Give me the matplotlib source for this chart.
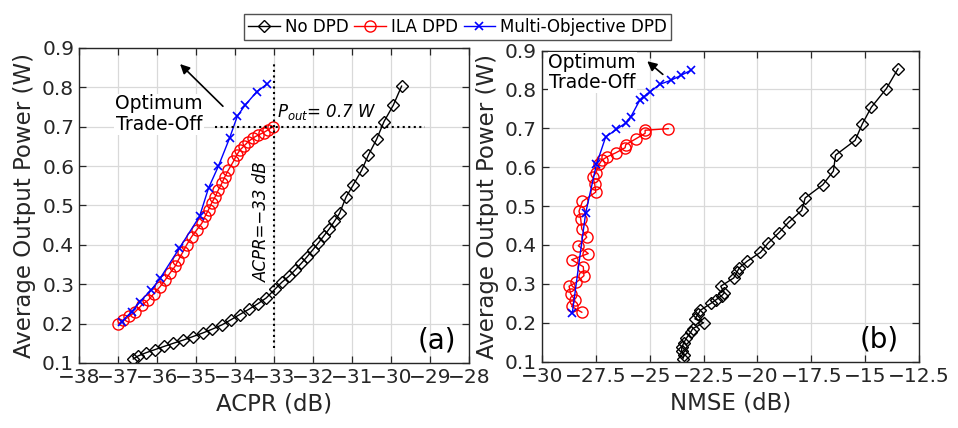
import matplotlib
matplotlib.use('Agg')
import matplotlib.pyplot as plt
import numpy as np

# ---------------- data ----------------
# (a) ACPR vs average output power
acpr_no_dpd = [-36.61, -36.48, -36.28, -36.05, -35.82, -35.58, -35.33, -35.08, -34.83, -34.58,
               -34.33, -34.10, -33.88, -33.65, -33.42, -33.20, -32.97, -32.80, -32.62, -32.45,
               -32.30, -32.15, -32.00, -31.86, -31.72, -31.58, -31.45, -31.32, -31.15, -30.97,
               -30.75, -30.58, -30.37, -30.18, -29.94, -29.73]
pout_no_dpd_a = [0.110, 0.118, 0.126, 0.134, 0.142, 0.150, 0.158, 0.167, 0.176, 0.186,
                 0.197, 0.210, 0.223, 0.236, 0.250, 0.265, 0.288, 0.305, 0.320, 0.337,
                 0.353, 0.370, 0.388, 0.405, 0.423, 0.441, 0.460, 0.480, 0.522, 0.552,
                 0.590, 0.628, 0.668, 0.713, 0.755, 0.803]

acpr_ila = [-36.99, -36.86, -36.71, -36.56, -36.39, -36.22, -36.09, -35.92, -35.79, -35.67,
            -35.54, -35.45, -35.33, -35.24, -35.11, -34.98, -34.85, -34.77, -34.68, -34.60,
            -34.51, -34.43, -34.34, -34.26, -34.17, -34.04, -33.96, -33.87, -33.77, -33.66,
            -33.53, -33.40, -33.27, -33.15, -33.03]
pout_ila_a = [0.199, 0.209, 0.218, 0.230, 0.247, 0.260, 0.275, 0.294, 0.311, 0.328,
              0.345, 0.362, 0.383, 0.400, 0.421, 0.438, 0.455, 0.472, 0.489, 0.506,
              0.522, 0.539, 0.556, 0.573, 0.590, 0.612, 0.628, 0.641, 0.651, 0.662,
              0.672, 0.679, 0.685, 0.692, 0.700]

acpr_mo = [-36.91, -36.65, -36.44, -36.15, -35.92, -35.43, -34.91, -34.68, -34.43, -34.14,
           -33.94, -33.74, -33.44, -33.17]
pout_mo_a = [0.205, 0.230, 0.256, 0.285, 0.315, 0.391, 0.472, 0.544, 0.599, 0.671,
             0.727, 0.755, 0.789, 0.809]

# (b) NMSE vs average output power
nmse_no_dpd = [-23.45, -23.40, -23.52, -23.50, -23.42, -23.30, -23.10, -23.00, -22.50, -22.90,
               -22.75, -22.65, -22.15, -21.92, -21.65, -21.53, -21.70, -21.10, -20.95, -20.84,
               -20.48, -19.86, -19.50, -19.01, -18.54, -17.94, -17.78, -16.96, -16.47, -16.37,
               -15.46, -15.13, -14.71, -14.01, -13.47]
pout_no_dpd_b = [0.108, 0.118, 0.128, 0.138, 0.148, 0.160, 0.175, 0.185, 0.200, 0.210,
                 0.222, 0.232, 0.250, 0.259, 0.270, 0.277, 0.294, 0.315, 0.330, 0.341,
                 0.358, 0.381, 0.405, 0.431, 0.459, 0.489, 0.521, 0.555, 0.590, 0.631,
                 0.669, 0.711, 0.754, 0.802, 0.853]

nmse_ila = [-28.15, -28.62, -28.47, -28.67, -28.74, -28.40, -28.05, -28.08, -28.62, -27.85,
            -28.31, -27.92, -28.15, -28.20, -28.28, -28.12, -27.50, -27.55, -27.63, -27.50,
            -27.35, -27.22, -26.96, -26.57, -26.14, -26.11, -25.64, -25.21, -25.21, -24.14]
pout_ila_b = [0.227, 0.242, 0.258, 0.275, 0.294, 0.304, 0.321, 0.344, 0.362, 0.378,
              0.398, 0.420, 0.441, 0.467, 0.487, 0.512, 0.536, 0.556, 0.575, 0.585,
              0.607, 0.618, 0.627, 0.637, 0.650, 0.658, 0.673, 0.687, 0.695, 0.699]

nmse_mo = [-28.59, -27.97, -27.47, -27.04, -26.54, -26.11, -25.88, -25.46, -25.26, -25.00,
           -24.53, -23.99, -23.55, -23.09]
pout_mo_b = [0.225, 0.482, 0.607, 0.678, 0.697, 0.714, 0.729, 0.772, 0.781, 0.793,
             0.813, 0.824, 0.836, 0.849]

xticks_a = np.arange(-38, -27, 1)
xticks_b = [-30, -27.5, -25, -22.5, -20, -17.5, -15, -12.5]
xticklabels_b = ['\u221230', '\u221227.5', '\u221225', '\u221222.5', '\u221220',
                 '\u221217.5', '\u221215', '\u221212.5']
yticks = [0.1, 0.2, 0.3, 0.4, 0.5, 0.6, 0.7, 0.8, 0.9]

# ---------------- figure ----------------
plt.rcParams['font.family'] = ['DejaVu Sans']
fig = plt.figure(figsize=(9.58, 4.28), dpi=100)
ax_a = fig.add_axes([0.0825, 0.152, 0.4071, 0.736])
ax_b = fig.add_axes([0.5657, 0.155, 0.3935, 0.727])

tick_fs = 14.5
label_fs = 16.5


def style_axes(ax):
    # MATLAB-like box with inward ticks and light grid
    ax.grid(True, color='#d9d9d9', linewidth=0.9)
    ax.set_axisbelow(True)
    ax.tick_params(direction='in', top=True, right=True, labelsize=tick_fs,
                   colors='#262626', length=5, width=0.9)
    for s in ax.spines.values():
        s.set_color('#262626')
        s.set_linewidth(1.0)
    ax.set_ylim(0.1, 0.9)
    ax.set_yticks(yticks)
    ax.set_ylabel('Average Output Power (W)', fontsize=label_fs, color='#262626')


# (a)
ax_a.plot(acpr_no_dpd, pout_no_dpd_a, color='black', marker='D', markersize=6.5,
          markerfacecolor='none', markeredgewidth=1.0, linewidth=1.0, label='No DPD')
ax_a.plot(acpr_ila, pout_ila_a, color='red', marker='o', markersize=8,
          markerfacecolor='none', markeredgewidth=1.0, linewidth=1.0, label='ILA DPD')
ax_a.plot(acpr_mo, pout_mo_a, color='blue', marker='x', markersize=6,
          markeredgewidth=1.2, linewidth=1.0, label='Multi-Objective DPD')
ax_a.set_xlim(-38, -28)
ax_a.set_xticks(xticks_a)
style_axes(ax_a)
ax_a.set_xlabel('ACPR (dB)', fontsize=label_fs, color='#262626')

# dotted reference lines
ax_a.plot([-34.51, -29.13], [0.7, 0.7], color='black', linestyle=':', linewidth=1.5)
ax_a.plot([-33, -33], [0.138, 0.865], color='black', linestyle=':', linewidth=1.5)
ax_a.text(-32.92, 0.712, r'$P_{out}$= 0.7 W', fontsize=12, style='italic',
          ha='left', va='bottom')
ax_a.text(-33.31, 0.459, 'ACPR=\u221233 dB', fontsize=12, style='italic',
          rotation=90, ha='center', va='center')
ax_a.annotate('', xy=(-35.46, 0.864), xytext=(-34.26, 0.747),
              arrowprops=dict(arrowstyle='-|>', color='black', lw=1.2, mutation_scale=14))
ax_a.text(-35.95, 0.732, 'Optimum\nTrade-Off', fontsize=13.5, ha='center', va='center',
          linespacing=1.1,
          bbox=dict(facecolor='white', edgecolor='none', pad=0.5))
ax_a.text(-28.82, 0.158, '(a)', fontsize=20, ha='center', va='center')

# (b)
ax_b.plot(nmse_no_dpd, pout_no_dpd_b, color='black', marker='D', markersize=6.5,
          markerfacecolor='none', markeredgewidth=1.0, linewidth=1.0)
ax_b.plot(nmse_ila, pout_ila_b, color='red', marker='o', markersize=8,
          markerfacecolor='none', markeredgewidth=1.0, linewidth=1.0)
ax_b.plot(nmse_mo, pout_mo_b, color='blue', marker='x', markersize=6,
          markeredgewidth=1.2, linewidth=1.0)
ax_b.set_xlim(-30, -12.5)
ax_b.set_xticks(xticks_b)
ax_b.set_xticklabels(xticklabels_b)
style_axes(ax_b)
ax_b.set_xlabel('NMSE (dB)', fontsize=label_fs, color='#262626')
ax_b.annotate('', xy=(-25.21, 0.877), xytext=(-24.29, 0.834),
              arrowprops=dict(arrowstyle='-|>', color='black', lw=1.2, mutation_scale=14))
ax_b.text(-27.67, 0.843, 'Optimum\nTrade-Off', fontsize=13.5, ha='center', va='center',
          linespacing=1.1,
          bbox=dict(facecolor='white', edgecolor='none', pad=0.5))
ax_b.text(-14.33, 0.158, '(b)', fontsize=20, ha='center', va='center')

# shared legend on top
leg = fig.legend(*ax_a.get_legend_handles_labels(), loc='center', ncol=3,
                 bbox_to_anchor=(0.4776, 0.937), fontsize=12, frameon=True,
                 fancybox=False, handlelength=1.9, handletextpad=0.3,
                 columnspacing=0.35, borderpad=0.25, borderaxespad=0)
leg.get_frame().set_edgecolor('#262626')
leg.get_frame().set_linewidth(1.0)

fig.savefig('out.png', dpi=100)
